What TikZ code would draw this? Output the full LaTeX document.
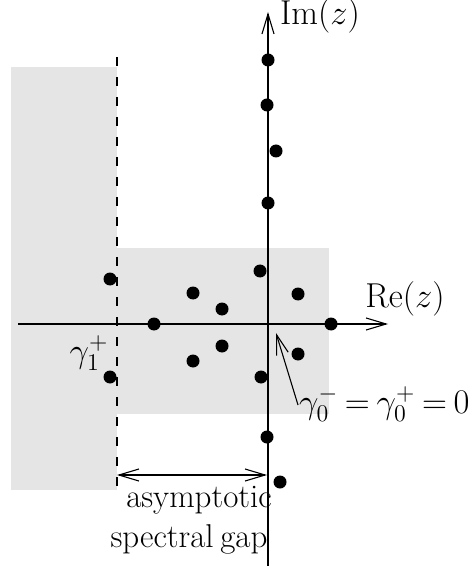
\documentclass[tikz,border=0pt]{standalone}
\usetikzlibrary{arrows.meta}
\tikzset{ev/.style={circle, fill, inner sep=0pt, minimum size=6.5pt}}
\begin{document}
\begin{tikzpicture}[x=0.5pt, y=-0.5pt, line width=0.55pt, >={Straight Barb[length=10pt,width=6pt]}, font=\fontsize{16.5}{19}\selectfont]
 \useasboundingbox (0,0) rectangle (473,566);
 % shaded regions and dashed boundary
 \fill[gray!20] (11,67) rectangle (117,490);
 \fill[gray!20] (117,248) rectangle (329,414);
 \draw[dash pattern=on 4.5pt off 5.5pt] (117,57) -- (117,490);
 % axes
 \coordinate (O) at (268,324);
 \coordinate (xl) at (18,324);
 \coordinate (xr) at (388,324);
 \coordinate (yb) at (268,566);
 \coordinate (yt) at (268,12);
 \draw[->] (xl) -- (xr);
 \draw[->] (yb) -- (yt);
 \node[anchor=base] (re) at (405,307) {$\mathrm{Re}(z)$};
 \node[anchor=base] (im) at (320,25) {$\mathrm{Im}(z)$};
 % eigenvalues
 \node[ev] (e1) at (268,60) {};
 \node[ev] (e2) at (267,105) {};
 \node[ev] (e3) at (276,151) {};
 \node[ev] (e4) at (268,203) {};
 \node[ev] (e5) at (260,271) {};
 \node[ev] (e6) at (298,294) {};
 \node[ev] (e7) at (331,324) {};
 \node[ev] (e8) at (193,293) {};
 \node[ev] (e9) at (222,309) {};
 \node[ev] (e10) at (154,324) {};
 \node[ev] (e11) at (110,279) {};
 \node[ev] (e12) at (110,377) {};
 \node[ev] (e13) at (222,346) {};
 \node[ev] (e14) at (193,361) {};
 \node[ev] (e15) at (298,354) {};
 \node[ev] (e16) at (261,377) {};
 \node[ev] (e17) at (267,437) {};
 \node[ev] (e18) at (280,482) {};
 % labels
 \node[anchor=base] (g1) at (89,362) {$\gamma_1^+$};
 \node[anchor=base east, inner sep=0pt] (g0) at (470,413) {$\thickmuskip=3.5mu\gamma_0^-=\gamma_0^+=0$};
 \coordinate (g0tail) at (298,405);
 \coordinate (g0tip) at (276,333);
 \draw[->] (g0tail) -- (g0tip);
 % spectral gap
 \coordinate (ga) at (117,475);
 \coordinate (gb) at (267,475);
 \draw[<->] (ga) -- (gb);
 \node[anchor=base] (gap1) at (199,507) {asymptotic};
 \node[anchor=base] (gap2) at (189,547) {spectral\kern0.2em gap};
\end{tikzpicture}
\end{document}
